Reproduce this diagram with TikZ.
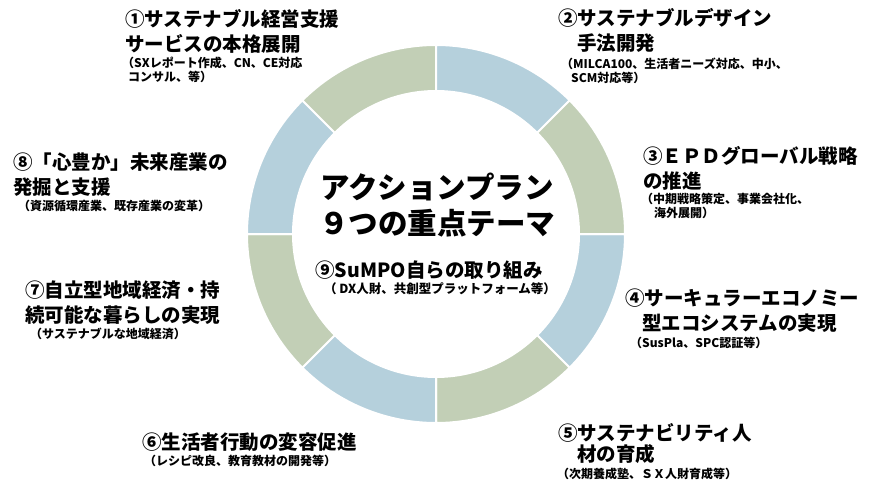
\documentclass[tikz,border=0pt]{standalone}
\usepackage{fontspec}
\setmainfont{Noto Sans CJK JP}
\usetikzlibrary{positioning}
\definecolor{ringblue}{HTML}{B5D0DC}
\definecolor{ringgreen}{HTML}{C2CFB6}

\begin{document}
\begin{tikzpicture}[x=1pt, y=-1pt,
    head/.style={anchor=north west, inner sep=0pt, align=left, font=\fontsize{19.5}{25}\selectfont\bfseries},
    note/.style={anchor=north west, inner sep=0pt, align=left, font=\fontsize{12}{14}\selectfont\bfseries}]
    % Canvas
    \useasboundingbox (0,0) rectangle (881,490);

    % Ring
    \begin{scope}[shift={(436,234)}]
    \foreach \a/\c in {0/ringblue, 45/ringgreen, 90/ringblue, 135/ringgreen, 180/ringblue, 225/ringgreen, 270/ringblue, 315/ringgreen} {
        \filldraw[fill=\c, draw=white, line width=2pt] (\a:143) -- (\a:189) arc[start angle=\a, end angle=\a+45, radius=189] -- (\a+45:143) arc[start angle=\a+45, end angle=\a, radius=143] -- cycle;
    }
    \end{scope}

    % Centre
    \node[align=center, font=\fontsize{29.5}{36}\selectfont\bfseries] (title) at (437,205) {アクションプラン\\９つの重点テーマ};
    \node[font=\fontsize{19.5}{24}\selectfont\bfseries] (t9) at (429,270) {⑨SuMPO自らの取り組み};
    \node[font=\fontsize{12.5}{15}\selectfont\bfseries] (s9) at (440,289) {（ DX人財、共創型プラットフォーム等）};

    % Themes
    \node[head] (t1) at (125,9) {①サステナブル経営支援\\サービスの本格展開};
    \node[note] (s1) at (122,56.5) {（SXレポート作成、CN、CE対応\\\hspace{6pt}コンサル、等）};

    \node[head] (t2) at (558,8) {②サステナブルデザイン\\\hspace{19pt}手法開発};
    \node[note] (s2) at (561,57.5) {（MILCA100、生活者ニーズ対応、中小、\\\hspace{10pt}SCM対応等）};

    \node[head] (t3) at (643,146) {③ＥＰＤグローバル戦略\\の推進};
    \node[note] (s3) at (641,192.5) {（中期戦略策定、事業会社化、\\\hspace{13pt}海外展開）};

    \node[head] (t4) at (625,289) {④サーキュラーエコノミー\\\hspace{17pt}型エコシステムの実現};
    \node[note] (s4) at (630,336.5) {（SusPla、SPC認証等）};

    \node[head] (t5) at (558,423) {⑤サステナビリティ人\\[-3.5pt]\hspace{19pt}材の育成};
    \node[note] (s5) at (557,467.5) {（次期養成塾、ＳＸ人財育成等）};

    \node[head] (t6) at (142,433) {⑥生活者行動の変容促進};
    \node[note] (s6) at (144,454.5) {（レシピ改良、教育教材の開発等）};

    \node[head] (t7) at (25,281) {⑦自立型地域経済・持\\続可能な暮らしの実現};
    \node[note] (s7) at (30,327.5) {（サステナブルな地域経済）};

    \node[head] (t8) at (13,153) {⑧「心豊か」未来産業の\\発掘と支援};
    \node[note] (s8) at (18,199.5) {（資源循環産業、既存産業の変革）};
\end{tikzpicture}
\end{document}
